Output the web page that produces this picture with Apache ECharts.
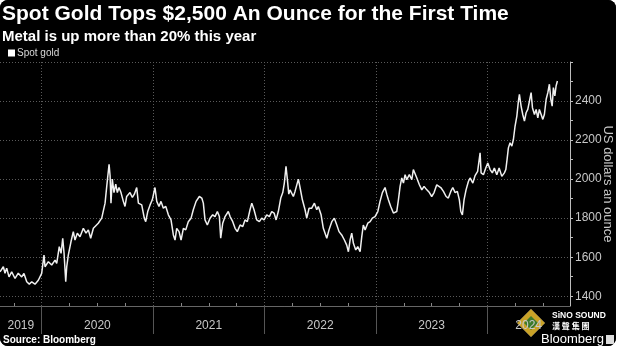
<!DOCTYPE html>
<html><head><meta charset="utf-8">
<script src="https://cdn.jsdelivr.net/npm/echarts@6/dist/echarts.min.js"></script>
<style>
html,body{margin:0;padding:0;background:#fff;}
#wrap{position:absolute;left:0;top:0;width:616px;height:346px;border-radius:8px;overflow:hidden;background:#000;}
#c{width:616px;height:346px;}
</style></head><body><div id="wrap"><div id="c"></div></div>
<script>
const titleText = 'Spot Gold Tops $2,500 An Ounce for the First Time';
const subtitleText = 'Metal is up more than 20% this year';
const seriesName = 'Spot gold';
const yAxisName = 'US dollars an ounce';
const sourceText = 'Source: Bloomberg';
const yearBoundaries = [2020, 2021, 2022, 2023, 2024];
const yTickLabels = [1400, 1600, 1800, 2000, 2200, 2400];
const yMinorTicks = [1400, 1500, 1600, 1700, 1800, 1900, 2000, 2100, 2200, 2300, 2400, 2500, 2600];
const yGridValues = [1400, 1600, 1800, 2000, 2200, 2400, 2600];
const xMin = 2019.626, xMax = 2024.742;
const yMin = 1350, yMax = 2600;

// time as fractional year
const tYear = [
2019.626,2019.656,2019.671,2019.686,2019.707,2019.731,2019.761,2019.790,2019.821,2019.841,
2019.866,2019.889,2019.911,2019.940,2019.970,2020.000,2020.021,2020.030,2020.060,2020.090,
2020.120,2020.135,2020.158,2020.174,2020.189,2020.201,2020.216,2020.225,2020.239,2020.254,
2020.263,2020.284,2020.299,2020.320,2020.344,2020.374,2020.398,2020.419,2020.440,2020.464,
2020.479,2020.508,2020.539,2020.553,2020.569,2020.584,2020.605,2020.614,2020.622,2020.634,
2020.649,2020.665,2020.679,2020.694,2020.712,2020.733,2020.748,2020.763,2020.793,2020.814,
2020.832,2020.853,2020.868,2020.898,2020.921,2020.934,2020.952,2020.973,2020.993,2021.017,
2021.033,2021.053,2021.071,2021.092,2021.114,2021.137,2021.161,2021.182,2021.197,2021.212,
2021.233,2021.251,2021.272,2021.293,2021.316,2021.341,2021.361,2021.377,
2021.386,2021.415,2021.437,2021.451,2021.466,2021.487,2021.511,2021.535,2021.556,2021.577,
2021.595,2021.607,2021.625,2021.646,2021.675,2021.691,2021.715,2021.736,2021.756,2021.781,
2021.805,2021.825,2021.846,2021.870,2021.886,2021.906,2021.930,2021.954,2021.975,2021.996,
2022.020,2022.044,2022.065,2022.086,2022.104,2022.124,2022.146,2022.164,2022.178,2022.193,
2022.205,2022.218,2022.229,
2022.245,2022.259,2022.274,2022.304,2022.319,2022.340,2022.364,2022.379,2022.400,2022.424,
2022.448,2022.469,2022.483,2022.508,2022.528,2022.559,2022.579,2022.604,2022.627,2022.649,
2022.669,2022.693,2022.717,2022.738,2022.753,2022.768,2022.783,2022.798,2022.819,2022.837,
2022.858,2022.873,2022.887,2022.903,2022.927,2022.948,2022.968,2022.992,2023.017,2023.037,
2023.058,2023.082,
2023.097,2023.112,2023.133,2023.157,2023.172,2023.187,2023.202,2023.217,2023.232,2023.247,
2023.262,2023.277,2023.300,2023.322,2023.336,2023.352,2023.367,2023.390,2023.412,2023.432,
2023.457,2023.480,2023.501,2023.522,2023.546,2023.561,2023.582,2023.606,2023.630,2023.650,
2023.672,2023.690,2023.711,2023.731,2023.749,2023.762,2023.776,2023.791,2023.809,2023.830,
2023.845,2023.870,2023.890,2023.913,2023.935,2023.944,2023.965,2023.986,2024.004,2024.025,
2024.045,2024.063,2024.085,2024.106,2024.130,2024.153,2024.166,2024.177,2024.189,2024.204,
2024.220,2024.234,2024.249,2024.265,2024.279,2024.288,2024.303,2024.318,2024.333,2024.348,
2024.363,2024.378,2024.393,2024.405,2024.423,2024.438,2024.453,2024.467,2024.483,2024.498,
2024.512,2024.528,2024.543,2024.557,2024.570,2024.582,2024.593,2024.606,2024.617,2024.629
];
// spot gold, US dollars an ounce
const spotGold = [
1525,1551,1518,1544,1499,1525,1491,1518,1499,1517,
1474,1462,1474,1462,1482,1517,1611,1551,1577,1560,
1585,1568,1654,1620,1697,1620,1474,1551,1611,1621,
1679,1731,1688,1723,1705,1748,1723,1740,1697,1748,
1740,1774,1800,1808,1877,1963,2076,2017,1877,2000,
1931,1974,1931,1957,1931,1886,1860,1911,1931,1906,
1923,1957,1877,1868,1800,1782,1834,1868,1894,1957,
1886,1860,1886,1851,1860,1817,1791,1714,1688,1748,
1731,1688,1748,1740,1782,1800,1843,1851,
1886,1911,1903,1877,1791,1765,1800,1817,1808,1834,
1808,1697,1774,1808,1834,1808,1782,1748,1731,1765,
1757,1791,1782,1843,1877,1843,1791,1782,1800,1791,
1817,1808,1834,1826,1791,1834,1903,1931,1980,2065,
2000,1923,1945,
1945,1911,1937,2000,1957,1894,1843,1800,1851,1851,
1877,1843,1860,1817,1748,1697,1740,1782,1800,1765,
1731,1714,1688,1662,1628,1688,1723,1671,1637,1654,
1628,1705,1765,1740,1774,1782,1800,1808,1834,1886,
1931,1957,
1923,1894,1860,1826,1817,1834,1894,1963,2006,1980,
2023,1997,2023,1997,2049,2057,2006,1971,1945,1963,
1945,1931,1911,1931,1971,1980,1957,1937,1911,1903,
1937,1957,1931,1937,1894,1834,1817,1894,1945,1988,
2006,1980,2018,2040,2135,2032,2023,2057,2083,2049,
2032,2057,2023,2057,2014,2032,2049,2100,2160,2186,
2169,2203,2272,2323,2400,2434,2374,2331,2297,2340,
2357,2400,2443,2366,2331,2357,2314,2357,2331,2306,
2331,2409,2443,2486,2409,2374,2469,2426,2477,2503
];

// label positions: centre of the visible part of each year
const yearLabelPos = [(xMin + 2020) / 2, 2020.5, 2021.5, 2022.5, 2023.5, (2024 + xMax) / 2];
const quarterTicks = [];
for (let y = 2019; y <= 2024; y++) for (let q = 0; q < 4; q++) {
  const v = y + q * 0.25;
  if (q > 0 && v > xMin && v < xMax) quarterTicks.push(v);
}

const chart = echarts.init(document.getElementById('c'));
const FONT = '"Liberation Sans", Arial, sans-serif';
const gridStyle = { color: '#5a5a5a', type: [1, 2], width: 1 };
chart.setOption({
  backgroundColor: '#000',
  animation: false,
  grid: { left: 0, right: 46, top: 62, bottom: 40, containLabel: false, outerBoundsMode: 'none' },
  legend: {
    data: [seriesName], left: 3, top: 43, icon: 'rect', itemWidth: 7, itemHeight: 7,
    textStyle: { color: '#d8d8d8', fontSize: 10, fontFamily: FONT, padding: [0, 0, 0, -3] }
  },
  xAxis: [{
    type: 'value', min: xMin, max: xMax,
    axisLine: { show: true, lineStyle: { color: '#666', width: 1 } },
    axisTick: { show: true, customValues: yearBoundaries, length: 28, lineStyle: { color: '#555' } },
    axisLabel: { show: true, customValues: yearLabelPos, formatter: v => String(Math.floor(v + 1e-9)),
      color: '#c8c8c8', fontSize: 12, fontFamily: FONT, margin: 14 },
    splitLine: { show: false }
  }, {
    type: 'value', min: xMin, max: xMax, position: 'bottom',
    axisLine: { show: false },
    axisTick: { show: true, customValues: quarterTicks, length: 3, inside: true, lineStyle: { color: '#888' } },
    axisLabel: { show: false },
    splitLine: { show: false }
  }],
  yAxis: {
    type: 'value', position: 'right', min: yMin, max: yMax,
    name: yAxisName, nameLocation: 'middle', nameRotate: -90, nameGap: 31, nameMoveOverlap: false,
    nameTextStyle: { color: '#c8c8c8', fontSize: 13, fontFamily: FONT },
    axisLine: { show: true, lineStyle: { color: '#bdbdbd', width: 1 } },
    axisTick: { show: true, customValues: yMinorTicks, length: 3, lineStyle: { color: '#bdbdbd' } },
    axisLabel: { customValues: yTickLabels, formatter: v => String(v), color: '#c8c8c8', fontSize: 12, fontFamily: FONT, margin: 5 },
    splitLine: { show: false }
  },
  series: [{
    name: seriesName, type: 'line', xAxisIndex: 0,
    data: tYear.map((t, i) => [t, spotGold[i]]),
    showSymbol: false, symbol: 'none',
    lineStyle: { color: '#f0f0f0', width: 1.5 },
    itemStyle: { color: '#ffffff' },
    z: 3,
    markLine: {
      silent: true, symbol: ['none', 'none'], label: { show: false }, lineStyle: gridStyle, z: 1,
      data: yGridValues.map(v => ({ yAxis: v })).concat(yearBoundaries.map(v => ({ xAxis: v })))
    }
  }],
  graphic: [
    { type: 'text', left: 2, top: 4, style: { text: titleText, fill: '#ffffff', font: 'bold 21px ' + FONT } },
    { type: 'text', left: 2, top: 29, style: { text: subtitleText, fill: '#ffffff', font: 'bold 15px ' + FONT } },
    { type: 'text', left: 3, top: 335, style: { text: sourceText, fill: '#ffffff', font: 'bold 10px ' + FONT } },
    { type: 'polygon', shape: { points: [[531, 309], [545, 323], [531, 337], [517, 323]] }, style: { fill: '#c9a227', stroke: '#7a6a3a', lineWidth: 1 } },
    { type: 'polygon', shape: { points: [[531, 316], [538, 323], [531, 330], [524, 323]] }, style: { fill: '#3c7a2a' } },
    { type: 'text', left: 552, top: 311, style: { text: 'SiNO SOUND', fill: '#ffffff', font: 'bold 8.5px ' + FONT } },
    { type: 'text', left: 552, top: 322, style: { text: '漢 聲 集 團', fill: '#ffffff', font: 'bold 8px "Noto Sans CJK TC"' } },
    { type: 'text', left: 541, top: 333, style: { text: 'Bloomberg', fill: '#ffffff', font: '13px ' + FONT } },
    { type: 'rect', shape: { x: 606, y: 335, width: 8, height: 9 }, style: { fill: '#dddddd' } }
  ]
});
</script></body></html>
